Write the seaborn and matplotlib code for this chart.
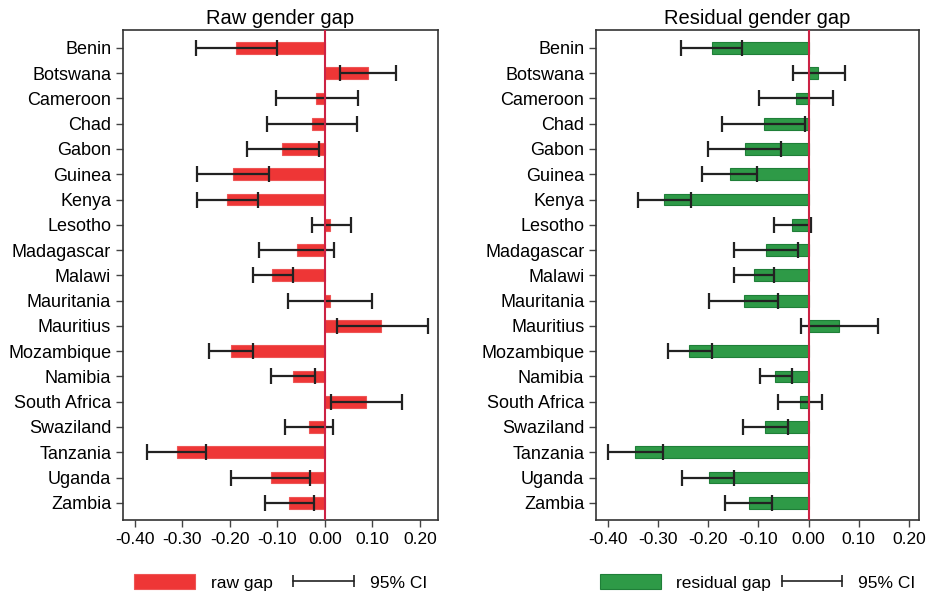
import numpy as np
import pandas as pd
import matplotlib
matplotlib.use('Agg')
import matplotlib.pyplot as plt
import seaborn as sns
from matplotlib.lines import Line2D
from matplotlib.patches import Patch
from matplotlib.legend_handler import HandlerLine2D

countries = ['Benin', 'Botswana', 'Cameroon', 'Chad', 'Gabon', 'Guinea', 'Kenya',
             'Lesotho', 'Madagascar', 'Malawi', 'Mauritania', 'Mauritius',
             'Mozambique', 'Namibia', 'South Africa', 'Swaziland', 'Tanzania',
             'Uganda', 'Zambia']

# raw gender gap and 95% CI
raw_gap = [-0.187, 0.090, -0.018, -0.027, -0.090, -0.194, -0.206, 0.011, -0.059, -0.112,
           0.010, 0.119, -0.198, -0.067, 0.086, -0.034, -0.312, -0.114, -0.075]
raw_lo = [-0.272, 0.032, -0.104, -0.121, -0.165, -0.270, -0.270, -0.028, -0.138, -0.152,
          -0.078, 0.025, -0.243, -0.114, 0.013, -0.084, -0.374, -0.197, -0.126]
raw_hi = [-0.100, 0.149, 0.069, 0.067, -0.013, -0.118, -0.141, 0.054, 0.020, -0.068,
          0.099, 0.217, -0.152, -0.020, 0.163, 0.016, -0.250, -0.032, -0.023]

# residual gender gap and 95% CI
res_gap = [-0.193, 0.018, -0.025, -0.089, -0.127, -0.157, -0.287, -0.032, -0.084, -0.109,
           -0.129, 0.060, -0.237, -0.066, -0.017, -0.086, -0.345, -0.199, -0.119]
res_lo = [-0.254, -0.030, -0.099, -0.172, -0.200, -0.212, -0.340, -0.068, -0.149, -0.148,
          -0.198, -0.015, -0.280, -0.097, -0.061, -0.131, -0.399, -0.251, -0.166]
res_hi = [-0.133, 0.072, 0.049, -0.007, -0.054, -0.103, -0.233, 0.004, -0.020, -0.069,
          -0.060, 0.139, -0.192, -0.033, 0.027, -0.041, -0.290, -0.148, -0.072]

xticks = [-0.4, -0.3, -0.2, -0.1, 0.0, 0.1, 0.2]

sns.set_style('white')
plt.rcParams['font.family'] = ['Liberation Sans', 'DejaVu Sans']
plt.rcParams['text.color'] = 'black'
plt.rcParams['xtick.color'] = 'black'
plt.rcParams['ytick.color'] = 'black'

fig = plt.figure(figsize=(9.27, 5.97), dpi=100)
ax1 = fig.add_axes([0.1327, 0.129, 0.3398, 0.8208])
ax2 = fig.add_axes([0.643, 0.129, 0.3484, 0.8208])

panels = [
    (ax1, raw_gap, raw_lo, raw_hi, '#EE3636', '#EE5555', 'Raw gender gap', 'raw gap',
     (-0.425, 0.238), 1.2),
    (ax2, res_gap, res_lo, res_hi, '#2E9A47', '#1F7F38', 'Residual gender gap', 'residual gap',
     (-0.423, 0.220), 0.6),
]

for ax, gap, lo, hi, col, edge, title, lab, xlim, colsp in panels:
    df = pd.DataFrame({'country': countries, 'gap': gap, 'lo': lo, 'hi': hi})
    sns.barplot(data=df, x='gap', y='country', color=col, saturation=1, width=0.47,
                errorbar=None, orient='h', edgecolor=edge, linewidth=0.8, ax=ax)
    ypos = np.arange(len(df))
    ax.errorbar(df['gap'], ypos,
                xerr=[df['gap'] - df['lo'], df['hi'] - df['gap']],
                fmt='none', ecolor='#222222', elinewidth=1.6, capsize=5.5, capthick=1.6, zorder=4)
    ax.axvline(0, color='#CC2244', lw=1.5, zorder=5)
    ax.set_xlim(*xlim)
    ax.set_ylim(len(df) - 0.32, -0.71)
    ax.set_xticks(xticks)
    ax.set_xticklabels(['%.2f' % t for t in xticks], fontsize=12.5)
    ax.tick_params(axis='y', labelsize=13, length=5, width=1, color='#444444',
                   labelcolor='black', direction='out', left=True)
    ax.tick_params(axis='x', length=5, width=1, color='#444444', labelcolor='black',
                   direction='out', bottom=True, pad=4)
    ax.set_xlabel('')
    ax.set_ylabel('')
    ax.set_title(title, fontsize=14.5, pad=4, color='black')
    for s in ax.spines.values():
        s.set_color('#333333')
        s.set_linewidth(1.2)

    handles = [Patch(facecolor=col, edgecolor=edge, linewidth=0.8),
               Line2D([0], [0], color='#222222', lw=1.2, marker='|', markersize=8, markeredgewidth=1.2)]
    leg = ax.legend(handles, [lab, '95% CI'], loc='upper center', bbox_to_anchor=(0.5, -0.078),
                    ncol=2, frameon=False, fontsize=12.5, handlelength=3.5, handleheight=1.0,
                    columnspacing=colsp, handletextpad=0.9,
                    handler_map={Line2D: HandlerLine2D(numpoints=2, marker_pad=0)})
    for t in leg.get_texts():
        t.set_color('black')

fig.savefig('out.png', dpi=100)
